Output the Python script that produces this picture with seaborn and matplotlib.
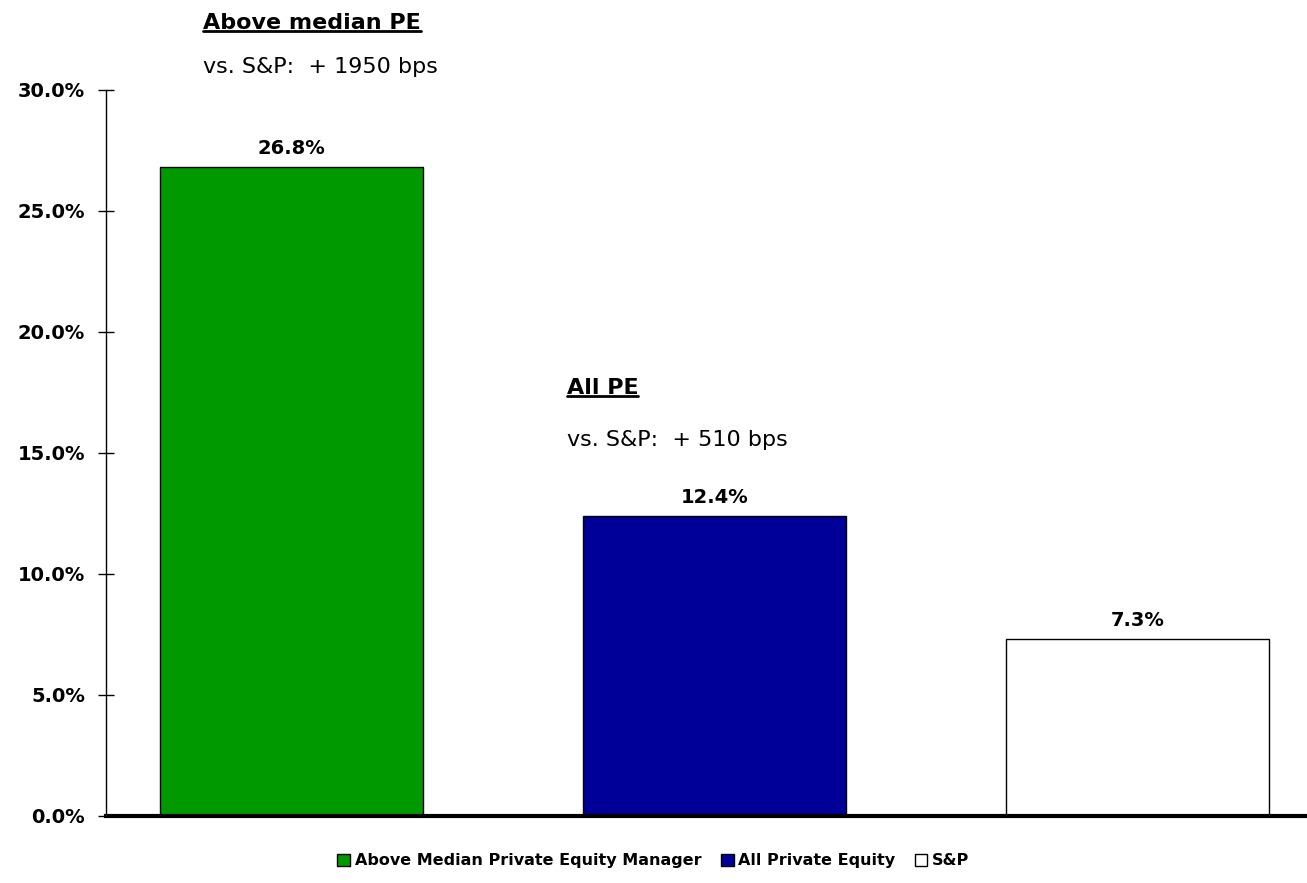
import matplotlib
matplotlib.use("Agg")
import matplotlib.pyplot as plt
import seaborn as sns
import pandas as pd
from matplotlib.patches import Patch
from matplotlib.lines import Line2D

categories = ["Above Median Private Equity Manager", "All Private Equity", "S&P"]
values = [26.8, 12.4, 7.3]
colors = ["#009900", "#000099", "#FFFFFF"]
yticks = [0, 5, 10, 15, 20, 25, 30]
ann_titles = ["Above median PE", "All PE"]
ann_subs = ["vs. S&P:  + 1950 bps", "vs. S&P:  + 510 bps"]

sns.set_style("white")
plt.rcParams['font.family'] = ['DejaVu Sans']
plt.rcParams['text.color'] = 'black'
plt.rcParams['xtick.color'] = 'black'
plt.rcParams['ytick.color'] = 'black'

fig = plt.figure(figsize=(13.07, 8.83), dpi=100)
ax = fig.add_axes([0.0811, 0.0759, 0.9189, 0.8223])

df = pd.DataFrame({"cat": categories, "val": values})
sns.barplot(data=df, x="cat", y="val", hue="cat", palette=colors, dodge=False,
            width=0.62, edgecolor="black", linewidth=1, legend=False, ax=ax,
            order=categories, hue_order=categories, saturation=1)

ax.set_xlim(-0.4385, 2.4007)
ax.set_ylim(0, 30)
ax.set_yticks(yticks)
ax.set_yticklabels([f"{t:.1f}%" for t in yticks], fontsize=14, fontweight="bold", color="black")
ax.set_xticks([])
ax.set_xlabel("")
ax.set_ylabel("")
ax.tick_params(axis="y", direction="inout", length=12, width=1, color="black", pad=9, left=True)
for s in ["top", "right"]:
    ax.spines[s].set_visible(False)
ax.spines["left"].set_color("black")
ax.spines["left"].set_linewidth(1)
ax.spines["bottom"].set_color("black")
ax.spines["bottom"].set_linewidth(3)

for i, v in enumerate(values):
    ax.annotate(f"{v:.1f}%", (i, v), xytext=(0, 9.5), textcoords="offset points",
                ha="center", va="baseline", fontsize=14, fontweight="bold", color="black")

title_pos = [(-0.209, 32.75), (0.651, 17.69)]
sub_pos = [(-0.209, 30.95), (0.651, 15.54)]
title_texts = []
for (x, y), t in zip(title_pos, ann_titles):
    tt = ax.text(x, y, t, fontsize=16, fontweight="bold", ha="left", va="center",
                 clip_on=False, color="black")
    title_texts.append(tt)
for (x, y), t in zip(sub_pos, ann_subs):
    ax.text(x, y, t, fontsize=16, ha="left", va="center", clip_on=False, color="black")

handles = [Patch(facecolor=c, edgecolor="black", linewidth=1) for c in colors]
leg = fig.legend(handles, categories, loc="center", bbox_to_anchor=(0.5, 0.025), ncol=3,
                 frameon=False, prop={"weight": "bold", "size": 11.5},
                 handlelength=0.8, handleheight=0.8, handletextpad=0.3, columnspacing=1.2)
for txt in leg.get_texts():
    txt.set_color("black")

fig.canvas.draw()
r = fig.canvas.get_renderer()
inv = fig.transFigure.inverted()
for tt in title_texts:
    bb = tt.get_window_extent(renderer=r)
    (x0, y0) = inv.transform((bb.x0, bb.y0 + 2))
    (x1, _) = inv.transform((bb.x1, bb.y0 + 2))
    fig.add_artist(Line2D([x0, x1], [y0, y0], color="black", linewidth=2, transform=fig.transFigure))

fig.savefig("out.png", dpi=100)
